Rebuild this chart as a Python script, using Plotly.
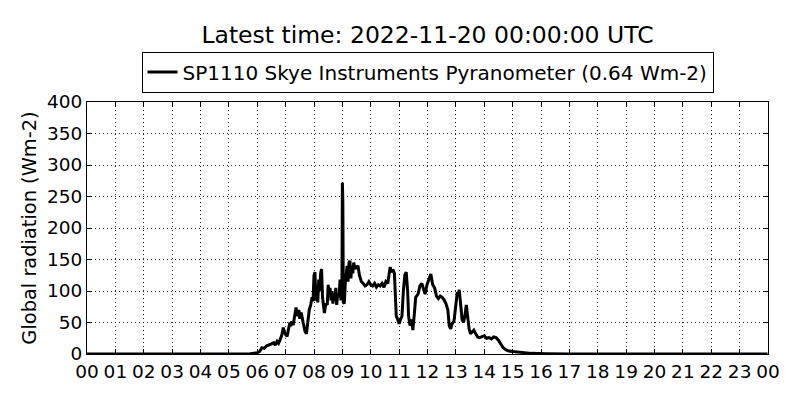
import pandas as pd
import plotly.graph_objects as go

day = "2022-11-19"

# readings (HH:MM, Wm-2)
times = [
    "00:00", "05:30", "05:45", "06:00", "06:05", "06:10", "06:15", "06:20", "06:25", "06:30",
    "06:35", "06:38", "06:42", "06:45", "06:48", "06:52", "06:55", "06:58", "07:03", "07:06",
    "07:09", "07:11", "07:13", "07:16", "07:20", "07:22", "07:25", "07:28", "07:30", "07:33",
    "07:37", "07:41", "07:44", "07:47", "07:50", "07:53", "07:56", "07:58", "08:00", "08:02",
    "08:04", "08:06", "08:08", "08:10", "08:12", "08:14", "08:16", "08:18", "08:20", "08:22",
    "08:25", "08:28", "08:30", "08:32", "08:34", "08:36", "08:38", "08:40", "08:42", "08:44",
    "08:46", "08:48", "08:50", "08:53", "08:55", "08:57", "08:59", "09:00", "09:01", "09:02",
    "09:04", "09:06", "09:08", "09:10", "09:12", "09:14", "09:16", "09:18", "09:20", "09:22",
    "09:24", "09:27", "09:30", "09:33", "09:36", "09:40", "09:44", "09:48", "09:52", "09:56",
    "10:00", "10:04", "10:08", "10:12", "10:16", "10:20", "10:24", "10:28", "10:32", "10:36",
    "10:39", "10:41", "10:44", "10:47", "10:50", "10:52", "10:54", "10:57", "11:00", "11:03",
    "11:06", "11:09", "11:12", "11:15", "11:18", "11:20", "11:23", "11:26", "11:29", "11:32",
    "11:35", "11:40", "11:44", "11:48", "11:52", "11:55", "11:59", "12:03", "12:07", "12:11",
    "12:15", "12:19", "12:23", "12:27", "12:31", "12:35", "12:39", "12:43", "12:46", "12:49",
    "12:52", "12:56", "13:00", "13:03", "13:05", "13:07", "13:10", "13:13", "13:16", "13:19",
    "13:22", "13:25", "13:28", "13:31", "13:35", "13:38", "13:42", "13:46", "13:50", "13:55",
    "14:00", "14:05", "14:10", "14:15", "14:20", "14:25", "14:30", "14:35", "14:40", "14:45",
    "14:50", "15:00", "15:10", "15:20", "15:40", "16:10", "17:00", "23:59",
]
radiation = [
    0, 0, 0.5, 2, 4, 10, 9, 13, 14, 16,
    18, 14, 20, 17, 22, 30, 42, 33, 28, 38,
    50, 44, 52, 46, 62, 74, 60, 70, 56, 66,
    50, 36, 32, 52, 70, 78, 90, 84, 125, 130,
    85, 95, 82, 118, 100, 128, 135, 90, 70, 65,
    80, 78, 110, 95, 105, 85, 100, 80, 95, 85,
    105, 78, 95, 90, 118, 85, 100, 272, 240, 82,
    80, 110, 135, 140, 115, 145, 148, 120, 140, 128,
    145, 135, 138, 140, 125, 115, 112, 108, 110, 115,
    110, 108, 112, 106, 110, 108, 112, 106, 115, 112,
    128, 138, 130, 134, 128, 90, 60, 55, 48, 55,
    60, 100, 125, 130, 100, 60, 45, 55, 38, 62,
    90, 95, 108, 112, 100, 95, 110, 120, 127, 110,
    105, 92, 88, 92, 90, 86, 80, 70, 45, 40,
    48, 52, 80, 98, 92, 102, 80, 55, 50, 60,
    78, 58, 40, 32, 36, 38, 32, 27, 26, 28,
    29, 25, 26, 24, 27, 26, 22, 16, 10, 7,
    5, 4, 3, 2, 1, 0.5, 0, 0,
]

x = pd.to_datetime([f"{day} {t}" for t in times])

fig = go.Figure()
fig.add_trace(go.Scatter(
    x=x, y=radiation, mode="lines",
    line=dict(color="black", width=3),
    name="SP1110 Skye Instruments Pyranometer (0.64 Wm-2)",
))

axis_style = dict(
    showline=True, linecolor="black", linewidth=1, mirror="ticks",
    ticks="inside", ticklen=5, tickcolor="black",
    showgrid=True, gridcolor="#222222", gridwidth=1, griddash="1px,3px",
    zeroline=False, tickfont=dict(size=18.5, color="black"),
)

# page has an 8px body margin, so the figure is sized/margined to compensate
fig.update_layout(
    width=784, height=384,
    margin=dict(l=79, r=24, t=94, b=38, autoexpand=False),
    paper_bgcolor="white", plot_bgcolor="white",
    font=dict(family="DejaVu Sans", color="black"),
    title=dict(text="Latest time: 2022-11-20 00:00:00 UTC", x=0.5, xref="paper",
               xanchor="center", y=0.93, yanchor="middle",
               font=dict(size=23.5, color="black")),
    legend=dict(orientation="h", x=0.5, xanchor="center", y=1.119, yanchor="middle",
                bordercolor="black", borderwidth=1, font=dict(size=20),
                bgcolor="white"),
    showlegend=True,
)
fig.update_xaxes(range=[f"{day} 00:00", "2022-11-20 00:00"], dtick=3600000,
                 tickformat="%H", ticklabelstandoff=1, **axis_style)
fig.update_yaxes(range=[0, 400], dtick=50,
                 title=dict(text="Global radiation (Wm-2)", font=dict(size=19.4), standoff=5),
                 **axis_style)

fig.write_html("out.html")
